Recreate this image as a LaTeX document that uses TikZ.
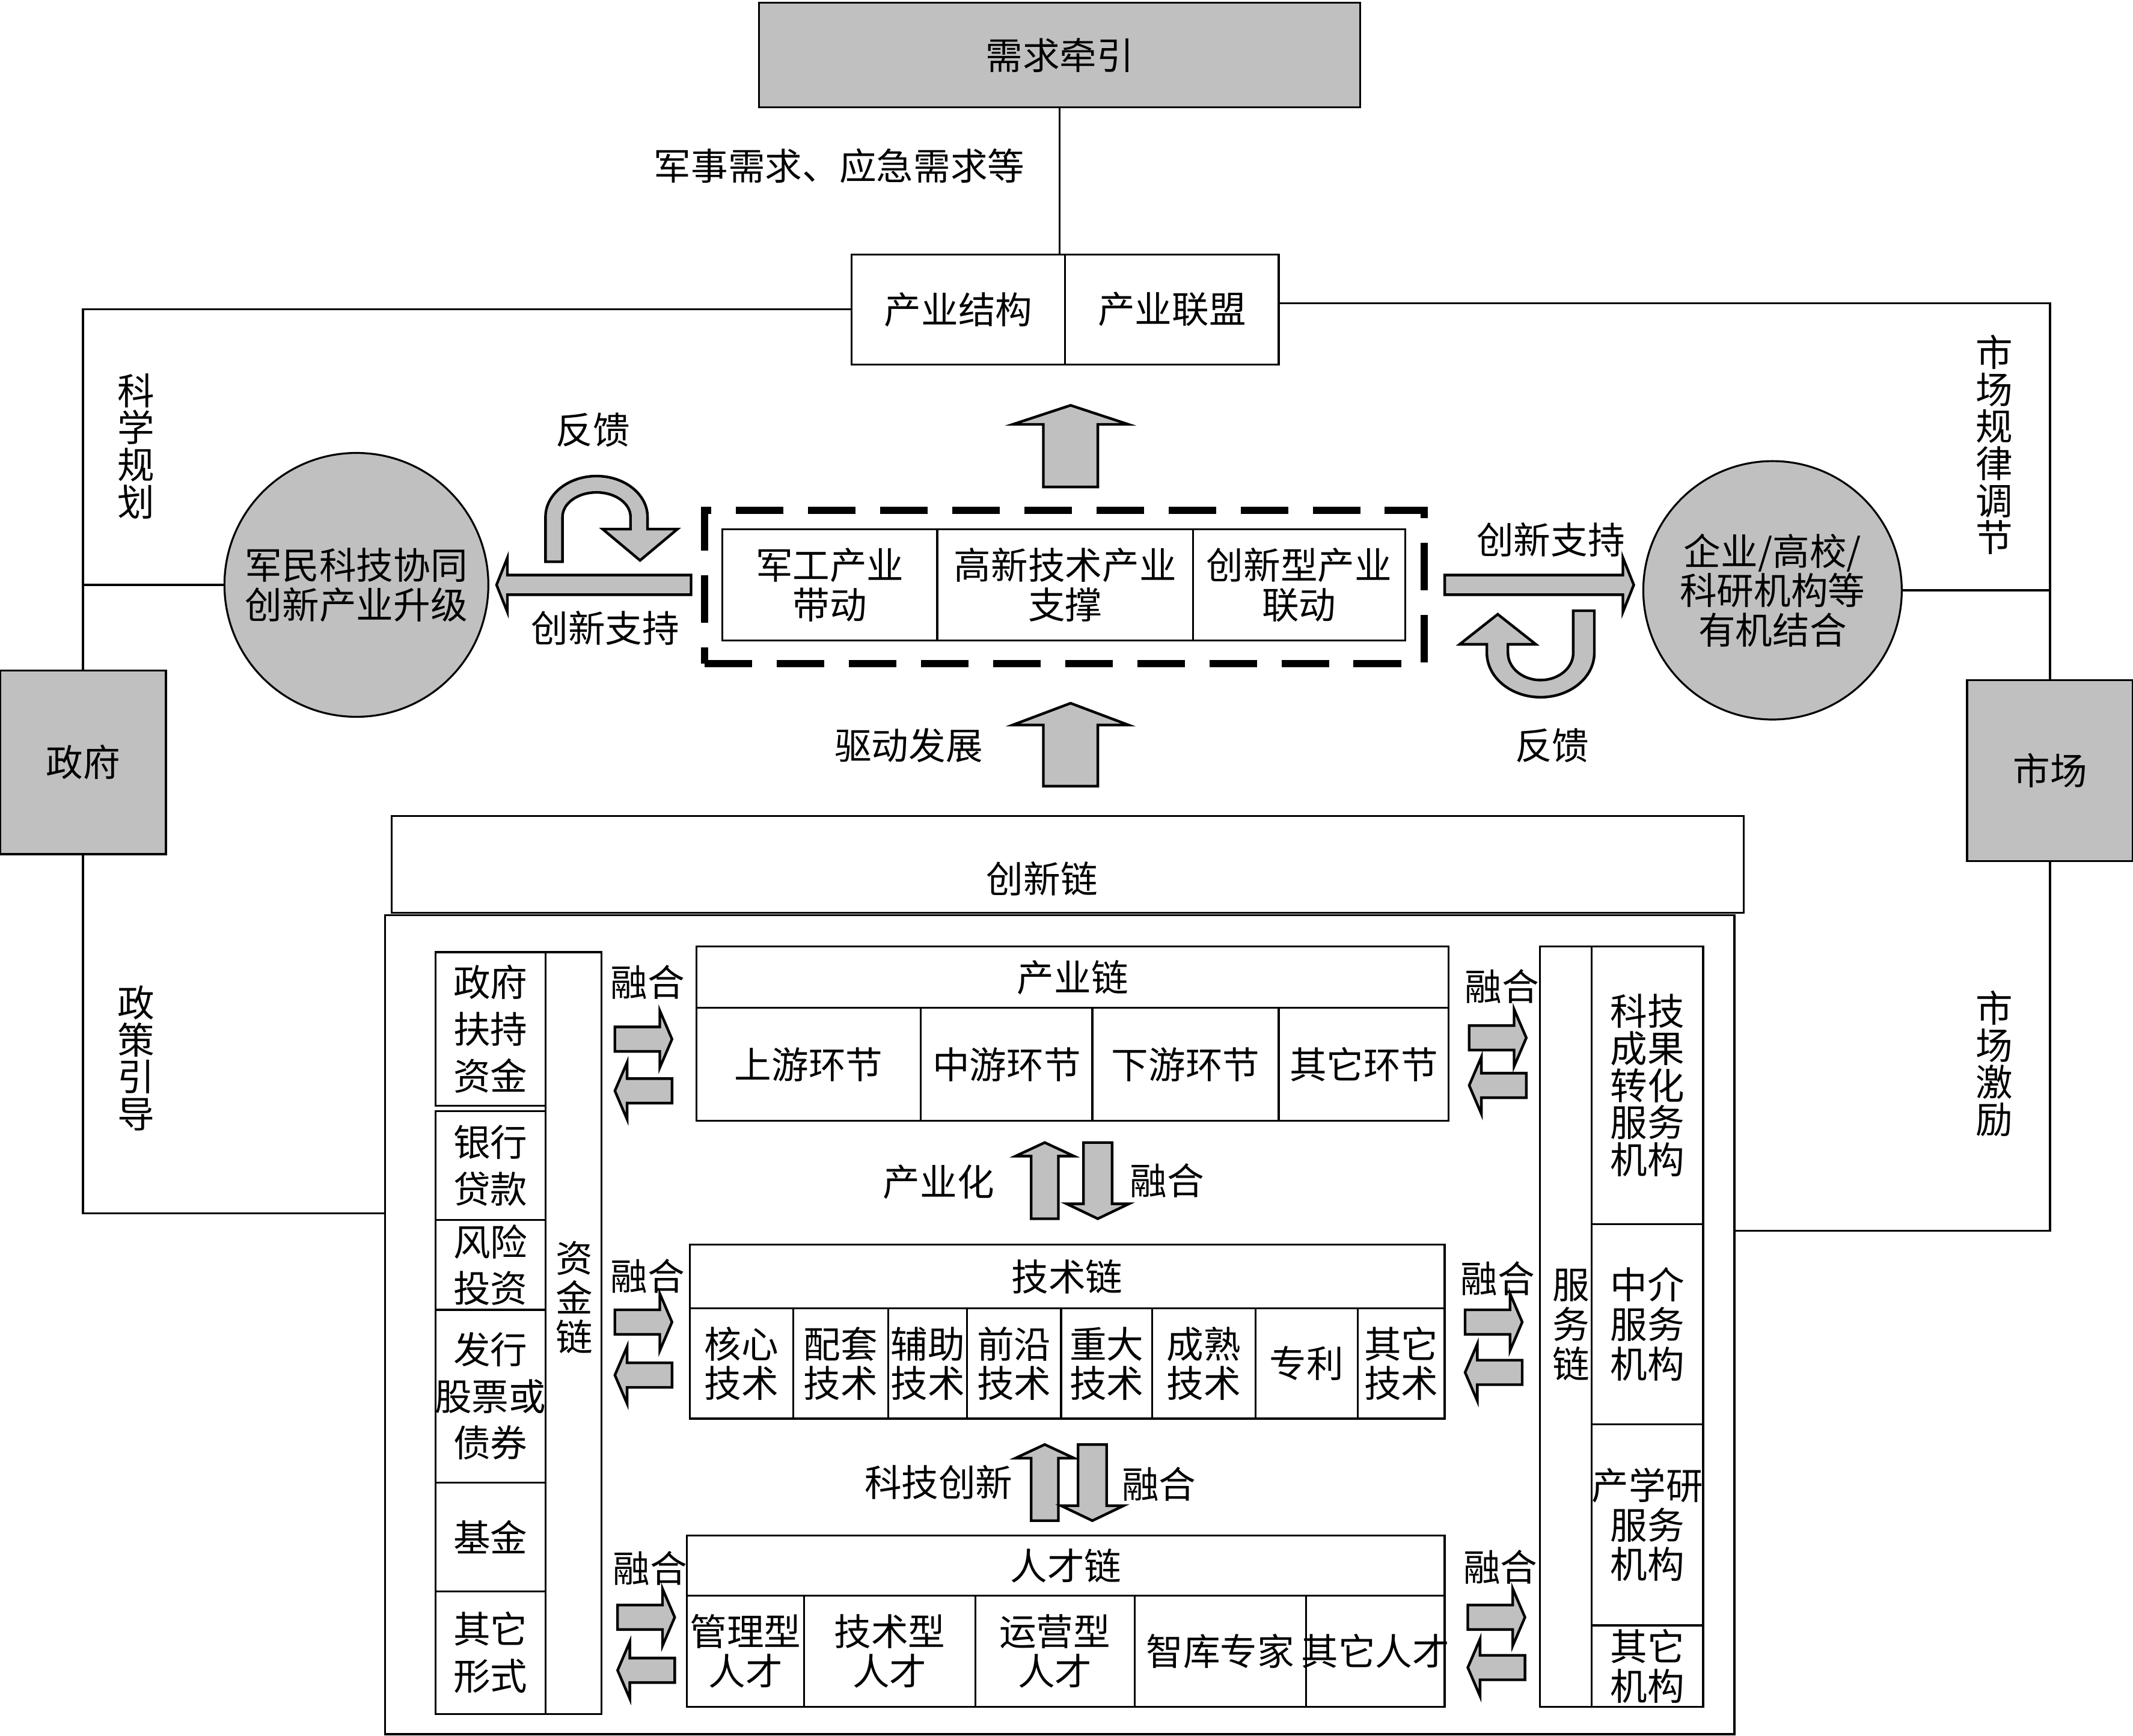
\documentclass[tikz,border=0pt]{standalone}
\usepackage{fontspec}
\setmainfont{Noto Sans CJK SC}
\usetikzlibrary{fit}
\definecolor{boxgray}{RGB}{192,192,192}
\newcommand\lbl{\fontsize{15.5pt}{16.5pt}\selectfont}
\newcommand\lblw{\fontsize{15.5pt}{19.5pt}\selectfont}
\newcommand\lblt{\fontsize{15.5pt}{15.5pt}\selectfont}

\begin{document}
\begin{tikzpicture}[x=0.2mm,y=-0.2mm,line width=0.8pt,
  txt/.style={font=\lbl,align=center,inner sep=0pt},
  cell/.style={draw,inner sep=0pt,label={[txt]center:#1}},
  wcell/.style={draw,inner sep=0pt,label={[txt,font=\lblw]center:#1}},
  tcell/.style={draw,inner sep=0pt,label={[txt,font=\lblt]center:#1}},
  gcell/.style={cell=#1,fill=boxgray},
  gbox/.style={txt,draw,fill=boxgray},
  dashbox/.style={draw,line width=3pt,dash pattern=on 7mm off 3.6mm,inner sep=0pt},
  arrowshape/.style={draw,fill=boxgray,line width=1.1pt,line join=miter},
  pics/blockarrow/.style n args={4}{code={
    \draw[arrowshape] (0,{-#2/2}) -- ({#1-#4},{-#2/2}) -- ({#1-#4},{-#3/2}) -- (#1,0)
      -- ({#1-#4},{#3/2}) -- ({#1-#4},{#2/2}) -- (0,{#2/2}) -- cycle;}}]

\useasboundingbox (0,0) rectangle (1568,1276);

% demand, structure
\node[gcell=需求牵引,fit={(558,2) (1000,79)}] (demand) {};
\node[txt] (demandlbl) at (617,122) {军事需求、应急需求等};
\node[cell=产业结构,fit={(626,187) (783,268)}] (struct) {};
\node[cell=产业联盟,fit={(783,187) (940,268)}] (alliance) {};
\draw (demand.south) -- (demand.south |- struct.north);

% government and market
\node[gcell=政府,fit={(0,493) (122,628)}] (gov) {};
\node[gcell=市场,fit={(1446,500) (1568,633)}] (market) {};
\draw (struct.west) -| (gov.north);
\draw ([yshift=0.9mm]alliance.east) -| (market.north);
\node[txt,font=\lblt] (plan) at (100,328) {科\\学\\规\\划};
\node[txt,font=\lblt] (regulate) at (1466,327) {市\\场\\规\\律\\调\\节};

\node[gbox,circle,minimum size=38.8mm] (upgrade) at (262,430) {军民科技协同\\创新产业升级};
\node[gbox,circle,minimum size=38mm] (combine) at (1303,434) {企业/高校/\\科研机构等\\有机结合};
\draw (upgrade.west) -- (upgrade.west -| gov.north);
\draw (combine.east) -- (combine.east -| market.north);

% core industries
\node[dashbox,fit={(518,375) (1047,488)}] (core) {};
\node[cell={军工产业\\带动},fit={(531,389) (689,471)}] (mil) {};
\node[cell={高新技术产业\\支撑},fit={(689,389) (877,471)}] (hitech) {};
\node[cell={创新型产业\\联动},fit={(877,389) (1033,471)}] (innov) {};

\pic[rotate=90] at (787,358) {blockarrow={60}{40}{85}{14}};
\pic[rotate=90] at (787,578) {blockarrow={61}{40}{85}{16}};
\pic[rotate=180] at (508,430) {blockarrow={143}{14.5}{40}{8}};
\pic at (1062,430) {blockarrow={139}{14.5}{40}{8}};

% feedback loops
\draw[arrowshape] (401,413) -- (401,380) arc[start angle=180,end angle=360,x radius=37.5,y radius=30]
  -- (476,389) -- (498,389) -- (470.5,412) -- (443,389) -- (463.5,389) -- (463.5,380)
  arc[start angle=0,end angle=-180,x radius=25,y radius=18] -- (413.5,413) -- cycle;
\draw[arrowshape] (1156.5,449) -- (1172,449) -- (1172,480) arc[start angle=0,end angle=180,x radius=39.5,y radius=32.6]
  -- (1093,473.7) -- (1073,473.7) -- (1101,451.6) -- (1129,473.7) -- (1108.5,473.7) -- (1108.5,480)
  arc[start angle=180,end angle=0,x radius=24,y radius=20] -- cycle;

\node[txt] (fbl) at (436,316) {反馈};
\node[txt] (fbr) at (1141,548) {反馈};
\node[txt] (supl) at (445,462) {创新支持};
\node[txt] (supr) at (1140,397) {创新支持};
\node[txt] (drive) at (668,548) {驱动发展};

% innovation chain
\node[draw,inner sep=0pt,fit={(288,600) (1282,671)}] (chain) {};
\node[txt] (chainlbl) at (766,646) {创新链};
\node[draw,inner sep=0pt,fit={(283,673) (1275,1275)}] (outer) {};
\coordinate (govin) at (outer.west |- 0,892);
\coordinate (mktin) at (outer.east |- 0,905);
\draw (gov.south) |- (govin);
\draw (market.south) |- (mktin);
\node[txt,font=\lblt] (policy) at (100,778) {政\\策\\引\\导};
\node[txt,font=\lblt] (incent) at (1466,782) {市\\场\\激\\励};

% capital chain
\node[wcell={政府\\扶持\\资金},fit={(320,700) (401,813)}] (gfund) {};
\node[wcell={银行\\贷款},fit={(320,817) (401,897)}] (loan) {};
\node[wcell={风险\\投资},fit={(320,897) (401,963)}] (venture) {};
\node[wcell={发行\\股票或\\债券},fit={(320,963) (401,1090)}] (stock) {};
\node[wcell=基金,fit={(320,1090) (401,1170)}] (fund) {};
\node[wcell={其它\\形式},fit={(320,1170) (401,1260)}] (othercap) {};
\node[draw,inner sep=0pt,fit={(401,700) (442,1260)}] (capcol) {};
\node[txt] (caplbl) at (422,954) {资\\金\\链};

% service chain
\node[draw,inner sep=0pt,fit={(1132,696) (1170,1255)}] (servcol) {};
\node[txt] (servlbl) at (1155,974) {服\\务\\链};
\node[tcell={科技\\成果\\转化\\服务\\机构},fit={(1170,696) (1252,900)}] (transfer) {};
\node[cell={中介\\服务\\机构},fit={(1170,900) (1252,1047)}] (agency) {};
\node[cell={产学研\\服务\\机构},fit={(1170,1047) (1252,1195)}] (iur) {};
\node[cell={其它\\机构},fit={(1170,1195) (1252,1255)}] (otherorg) {};

% industry chain
\node[cell=产业链,fit={(512,696) (1065,741)}] (indhead) {};
\node[cell=上游环节,fit={(512,741) (677,824)}] (upstream) {};
\node[cell=中游环节,fit={(677,741) (803,824)}] (midstream) {};
\node[cell=下游环节,fit={(803,741) (940,824)}] (downstream) {};
\node[cell=其它环节,fit={(940,741) (1065,824)}] (otherlink) {};

% technology chain
\node[cell=技术链,fit={(507,915) (1062,962)}] (techhead) {};
\node[cell={核心\\技术},fit={(507,962) (583,1043)}] (core1) {};
\node[cell={配套\\技术},fit={(583,962) (653,1043)}] (match) {};
\node[cell={辅助\\技术},fit={(653,962) (711,1043)}] (aux) {};
\node[cell={前沿\\技术},fit={(711,962) (780,1043)}] (front) {};
\node[cell={重大\\技术},fit={(780,962) (847,1043)}] (major) {};
\node[cell={成熟\\技术},fit={(847,962) (923,1043)}] (mature) {};
\node[cell=专利,fit={(923,962) (998,1043)}] (patent) {};
\node[cell={其它\\技术},fit={(998,962) (1062,1043)}] (othertech) {};

% talent chain
\node[cell=人才链,fit={(505,1129) (1062,1173)}] (talhead) {};
\node[cell={管理型\\人才},fit={(505,1173) (591,1255)}] (manager) {};
\node[cell={技术型\\人才},fit={(591,1173) (717,1255)}] (techtal) {};
\node[cell={运营型\\人才},fit={(717,1173) (834,1255)}] (operator) {};
\node[cell=智库专家,fit={(834,1173) (960,1255)}] (think) {};
\node[cell=其它人才,fit={(960,1173) (1062,1255)}] (othertal) {};

% fusion arrows
\foreach \x/\ya/\yb/\ly in {452/764/802/722, 452/972/1011/938, 454/1189/1228/1153,
    1080/763/798/725, 1077/972/1009/940, 1079/1189/1226/1152} {
  \pic at (\x,\ya) {blockarrow={42}{18}{42}{9}};
  \pic[rotate=180] at (\x+42,\yb) {blockarrow={42}{18}{42}{9}};
  \node[txt] at (\x+24,\ly) {融合};
}

\pic[rotate=90] at (768,896) {blockarrow={56}{20}{43}{10}};
\pic[rotate=-90] at (807,840) {blockarrow={56}{21}{46}{11}};
\pic[rotate=90] at (768,1118) {blockarrow={56}{20}{43}{10}};
\pic[rotate=-90] at (803,1062) {blockarrow={56}{21}{46}{11}};
\node[txt] (industrial) at (690,869) {产业化};
\node[txt] (fusea) at (858,868) {融合};
\node[txt] (scitech) at (690,1090) {科技创新};
\node[txt] (fuseb) at (852,1091) {融合};

\end{tikzpicture}
\end{document}
